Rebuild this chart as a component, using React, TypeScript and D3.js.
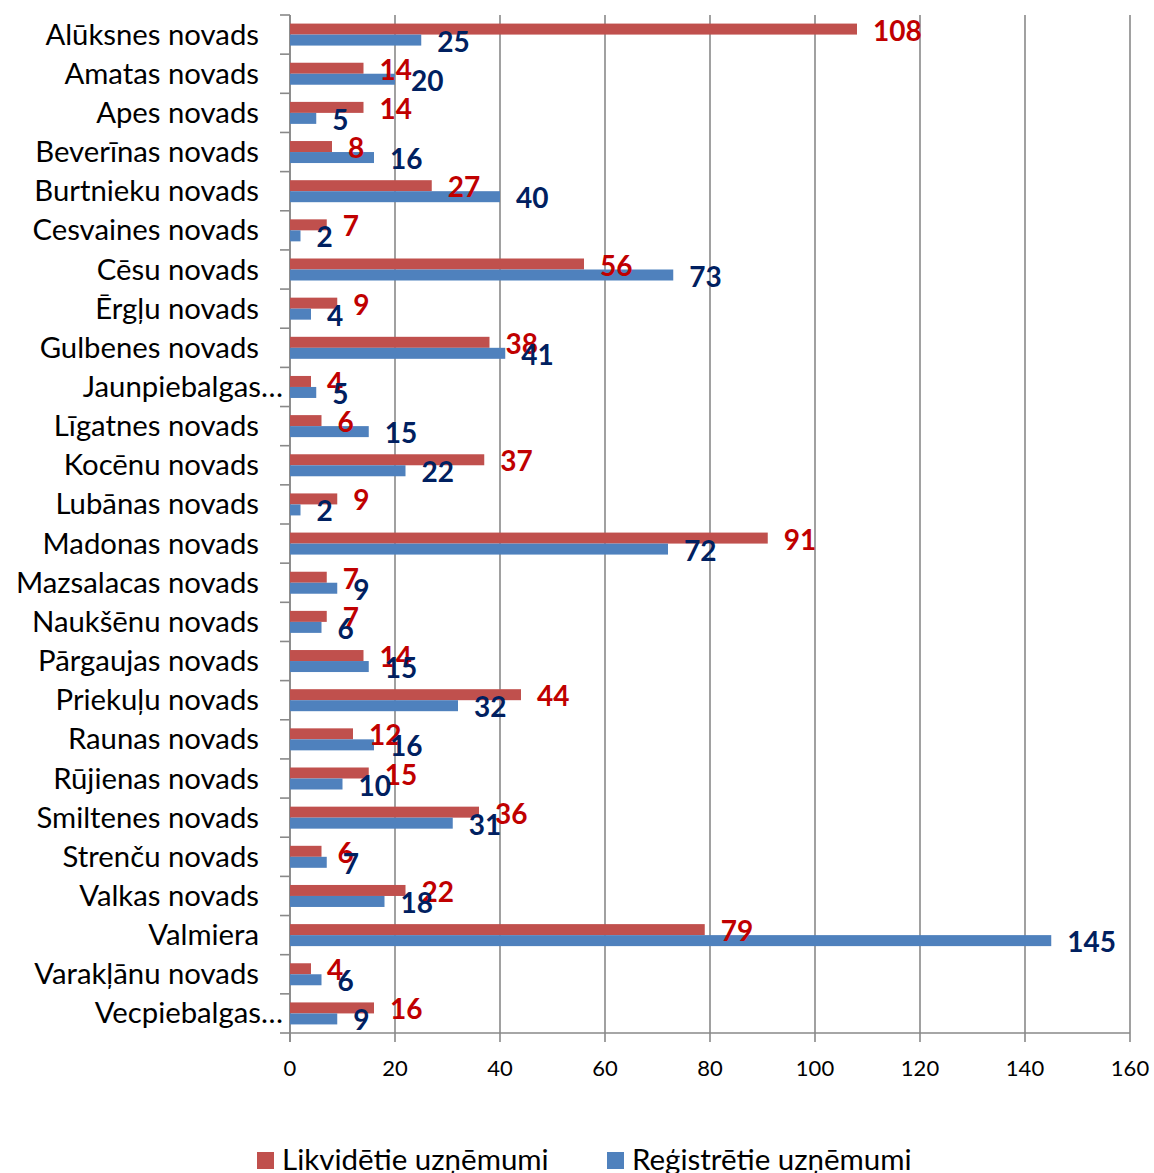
import * as d3 from "d3";

const categories = [
  "Alūksnes novads",
  "Amatas novads",
  "Apes novads",
  "Beverīnas novads",
  "Burtnieku novads",
  "Cesvaines novads",
  "Cēsu novads",
  "Ērgļu novads",
  "Gulbenes novads",
  "Jaunpiebalgas…",
  "Līgatnes novads",
  "Kocēnu novads",
  "Lubānas novads",
  "Madonas novads",
  "Mazsalacas novads",
  "Naukšēnu novads",
  "Pārgaujas novads",
  "Priekuļu novads",
  "Raunas novads",
  "Rūjienas novads",
  "Smiltenes novads",
  "Strenču novads",
  "Valkas novads",
  "Valmiera",
  "Varakļānu novads",
  "Vecpiebalgas…",
];

const likvidetie = [108, 14, 14, 8, 27, 7, 56, 9, 38, 4, 6, 37, 9, 91, 7, 7, 14, 44, 12, 15, 36, 6, 22, 79, 4, 16];
const registretie = [25, 20, 5, 16, 40, 2, 73, 4, 41, 5, 15, 22, 2, 72, 9, 6, 15, 32, 16, 10, 31, 7, 18, 145, 6, 9];

const xTicks = [0, 20, 40, 60, 80, 100, 120, 140, 160];

const series = [
  { key: "Likvidētie uzņēmumi", values: likvidetie, fill: "#C0504D", label: "#C00000" },
  { key: "Reģistrētie uzņēmumi", values: registretie, fill: "#4F81BD", label: "#002060" },
];

const W = 1154,
  H = 1173;
const m = { top: 15, right: 24, bottom: 140, left: 290 };
const FONT = "Lato, 'Noto Sans', sans-serif";
const GRID = "#898989";

export default function App() {
  const x = d3.scaleLinear().domain([0, 160]).range([m.left, W - m.right]);
  const y = d3.scaleBand<string>().domain(categories).range([m.top, H - m.bottom]).padding(0);
  const step = y.step();
  const groupH = 22;
  const sub = d3
    .scaleBand<string>()
    .domain(series.map((s) => s.key))
    .range([(step - groupH) / 2, (step + groupH) / 2]);

  const bottom = H - m.bottom;
  const edges = d3.range(categories.length + 1).map((i) => m.top + i * step);

  return (
    <svg
      width={W}
      height={H}
      style={{ position: "absolute", left: 0, top: 0, background: "#fff" }}
      fontFamily={FONT}
    >
      {/* grid */}
      {xTicks.map((t) => (
        <line key={"g" + t} x1={x(t)} x2={x(t)} y1={m.top} y2={bottom + 9} stroke={GRID} strokeWidth={1.6} />
      ))}
      {/* category axis */}
      <line x1={x(0)} x2={x(0)} y1={m.top} y2={bottom + 9} stroke={GRID} strokeWidth={1.6} />
      {edges.map((e, i) => (
        <line key={"t" + i} x1={x(0) - 10} x2={x(0)} y1={e} y2={e} stroke={GRID} strokeWidth={1.6} />
      ))}
      <line x1={x(0)} x2={x(160)} y1={bottom} y2={bottom} stroke={GRID} strokeWidth={1.6} />

      {/* bars */}
      {series.map((s) =>
        categories.map((c, i) => (
          <rect
            key={s.key + c}
            x={x(0)}
            y={(y(c) ?? 0) + (sub(s.key) ?? 0)}
            width={x(s.values[i]) - x(0)}
            height={sub.bandwidth()}
            fill={s.fill}
          />
        ))
      )}

      {/* value labels */}
      {series.map((s) =>
        categories.map((c, i) => (
          <text
            key={"l" + s.key + c}
            x={x(s.values[i]) + 16}
            y={(y(c) ?? 0) + (sub(s.key) ?? 0) + sub.bandwidth() / 2 + 11.5}
            fill={s.label}
            fontWeight="bold"
            fontSize={28}
          >
            {s.values[i]}
          </text>
        ))
      )}

      {/* category labels */}
      {categories.map((c) => (
        <text
          key={"c" + c}
          x={c.endsWith("…") ? x(0) - 7 : x(0) - 31}
          y={(y(c) ?? 0) + step / 2 + 10}
          textAnchor="end"
          fontSize={29.3}
          fill="#000"
        >
          {c}
        </text>
      ))}

      {/* x tick labels */}
      {xTicks.map((t) => (
        <text key={"x" + t} x={x(t)} y={bottom + 43} textAnchor="middle" fontSize={22} fill="#000">
          {t}
        </text>
      ))}

      {/* legend */}
      {series.map((s, i) => {
        const lx = i === 0 ? 257 : 607;
        return (
          <g key={"lg" + s.key}>
            <rect x={lx} y={1152} width={17} height={17} fill={s.fill} />
            <text x={lx + 25} y={1170} fontSize={29.5} fill="#000">
              {s.key}
            </text>
          </g>
        );
      })}
    </svg>
  );
}
